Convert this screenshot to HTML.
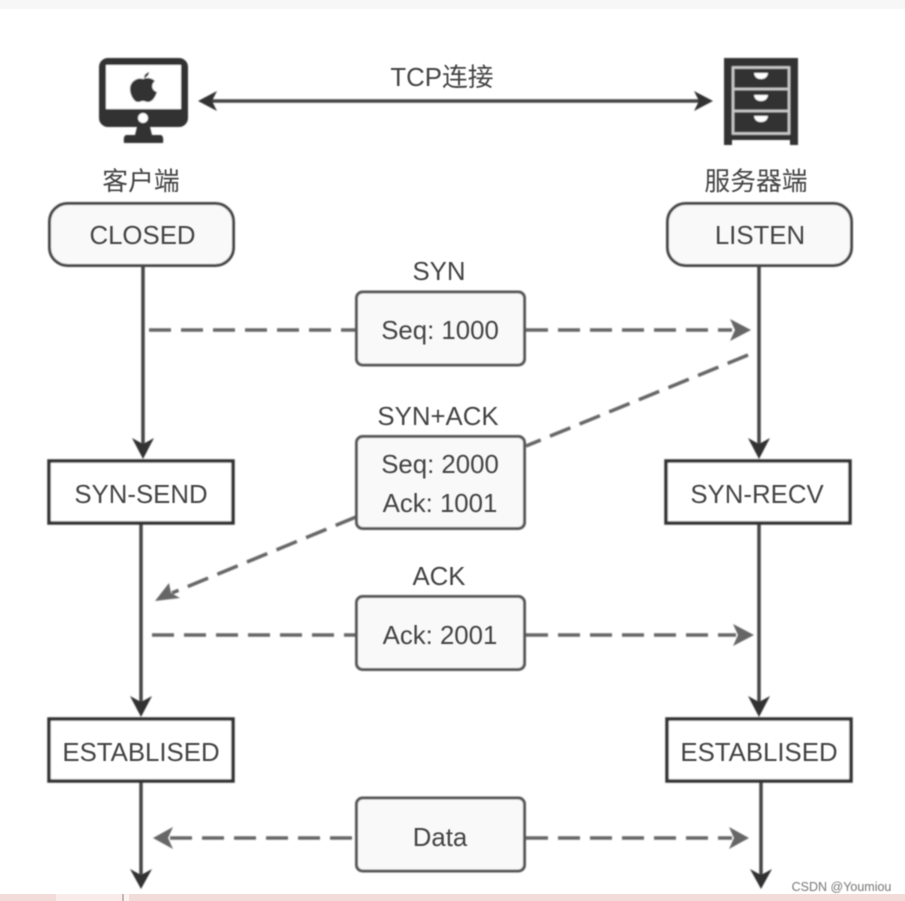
<!DOCTYPE html>
<html><head><meta charset="utf-8">
<style>
html,body{margin:0;padding:0;background:#fff;width:905px;height:901px;overflow:hidden}
svg{display:block}
text{font-family:"Liberation Sans","Noto Sans CJK SC",sans-serif;fill:#444;font-size:25.8px;text-anchor:middle}
</style></head><body>
<svg width="905" height="901" viewBox="0 0 905 901" xmlns="http://www.w3.org/2000/svg">
<defs><filter id="b" x="-5%" y="-5%" width="110%" height="110%"><feGaussianBlur stdDeviation="0.8"/></filter></defs>
<rect x="0" y="0" width="905" height="9" fill="#f7f7f7"/>
<rect x="0" y="894" width="905" height="7" fill="#f2dcda"/>
<rect x="56" y="894" width="66" height="7" fill="#f8ebe9"/>
<rect x="122" y="894" width="7" height="7" fill="#fbf3f2"/>
<rect x="122" y="894" width="2" height="7" fill="#c9b5b3"/>
<g filter="url(#b)">
<!-- monitor -->
<rect x="99" y="58" width="89" height="69" rx="9" fill="#333"/>
<rect x="106" y="65" width="75" height="44" fill="#fff"/>
<circle cx="143" cy="118" r="5" fill="#fff"/>
<path d="M137 127H150L152 135H161Q164 136 163 143H124Q123 136 126 135H135Z" fill="#333"/>
<path d="M143 79C147 77 152 78 155 81C151 84 151 90 157 92C155 98 152 102 148 102C146 102 145 101 143 101C141 101 140 102 138 102C134 102 130 95 130 89C130 81 138 77 143 79Z" fill="#333"/>
<path d="M144 78C144 75 146 73 149 72C149 75 147 77 144 78Z" fill="#333"/>
<!-- cabinet -->
<path d="M724 58H798V145H790V140H732V145H724Z" fill="#333"/>
<rect x="733" y="67.500" width="56" height="66" fill="none" stroke="#ccc" stroke-width="2.500"/>
<path d="M733 89H789M733 111H789" stroke="#ccc" stroke-width="2.500"/>
<path d="M754 73H768Q767 79 761 79Q755 79 754 73ZM754 95H768Q767 101 761 101Q755 101 754 95ZM754 116H768Q767 122 761 122Q755 122 754 116Z" fill="#fff"/>
<!-- TCP arrow -->
<path d="M210 101H702" stroke="#444" stroke-width="3.500" fill="none"/>
<path d="M198 101L217 91L212 101L217 111Z" fill="#333"/>
<path d="M713 101L694 91L699 101L694 111Z" fill="#333"/>
<!-- solid verticals -->
<g stroke="#444" stroke-width="3.500" fill="none">
<path d="M143 266V448"/><path d="M759 266V448"/>
<path d="M141 524V706"/><path d="M759 524V706"/>
<path d="M141 782V876"/><path d="M761 782V878"/>
</g>
<g fill="#333">
<path d="M143 459L132 438L143 444L154 438Z"/>
<path d="M759 459L748 438L759 444L770 438Z"/>
<path d="M141 717L130 696L141 702L152 696Z"/>
<path d="M759 717L748 696L759 702L770 696Z"/>
<path d="M141 889L130 869L141 875L152 869Z"/>
<path d="M761 889L750 869L761 875L772 869Z"/>
</g>
<!-- dashed -->
<g stroke="#666" stroke-width="3.500" fill="none" stroke-dasharray="22 10">
<path d="M149 330H356"/><path d="M526 330H732"/>
<path d="M748 355L526 446"/>
<path d="M356 517L172 593"/>
<path d="M152 635H356"/><path d="M526 635H736"/>
<path d="M170 838H356"/><path d="M526 838H732"/>
</g>
<g fill="#666">
<path d="M751 330L730 319L735 330L730 341Z"/>
<path d="M155 601L169 583L171 593L180 598Z"/>
<path d="M754 635L733 624L738 635L733 646Z"/>
<path d="M153 838L173 827L168 838L173 849Z"/>
<path d="M749 838L729 827L734 838L729 849Z"/>
</g>
<!-- state boxes -->
<g fill="#f9f9f9" stroke="#444" stroke-width="3">
<rect x="49.500" y="203.500" width="184" height="62" rx="18"/>
<rect x="667.500" y="203.500" width="184" height="62" rx="18"/>
</g>
<g fill="#fff" stroke="#333" stroke-width="3.500">
<rect x="49" y="461" width="184" height="62"/>
<rect x="666" y="461" width="184" height="62"/>
<rect x="49" y="719" width="184" height="62"/>
<rect x="667" y="719" width="184" height="62"/>
</g>
<!-- packets -->
<g fill="#f9f9f9" stroke="#555" stroke-width="3">
<rect x="356.500" y="292" width="168" height="73" rx="6"/>
<rect x="356.500" y="436.500" width="168" height="92" rx="6"/>
<rect x="356.500" y="596.500" width="168" height="73" rx="6"/>
<rect x="356.500" y="798" width="168" height="73" rx="6"/>
</g>
</g>
<g style="filter:blur(0.45px)">
<text x="442" y="86">TCP连接</text>
<text x="141" y="190">客户端</text>
<text x="756" y="190">服务器端</text>
<text x="142.500" y="244">CLOSED</text>
<text x="760" y="244">LISTEN</text>
<text x="439" y="280">SYN</text>
<text x="440" y="339">Seq: 1000</text>
<text x="438" y="425">SYN+ACK</text>
<text x="440" y="473">Seq: 2000</text>
<text x="440" y="512">Ack: 1001</text>
<text x="141" y="503">SYN-SEND</text>
<text x="757" y="503">SYN-RECV</text>
<text x="439" y="585">ACK</text>
<text x="440" y="644">Ack: 2001</text>
<text x="141" y="761">ESTABLISED</text>
<text x="759" y="761">ESTABLISED</text>
<text x="440" y="846">Data</text>
<text x="841.500" y="891" style="font-size:12.500px;fill:#777">CSDN @Youmiou</text>
</g>
</svg>
</body></html>
